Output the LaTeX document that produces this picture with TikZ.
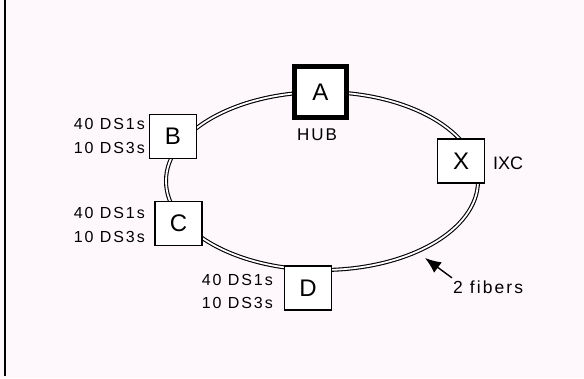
\documentclass[tikz,border=0pt]{standalone}
\usepackage{fontspec}
\setmainfont{Liberation Sans}
\newfontfamily\lblfont[LetterSpace=12]{Liberation Sans}
\usetikzlibrary{arrows.meta}
\begin{document}
\begin{tikzpicture}[x=1pt,y=-1pt,
  site/.style={draw=black,fill=white,line width=1.2pt,minimum width=47pt,minimum height=44pt,inner sep=0pt,font=\fontsize{24}{24}\selectfont},
  hubbox/.style={site,line width=4.5pt,minimum width=52pt,minimum height=51pt},
  lbl/.style={align=right,inner sep=0pt,font=\lblfont\fontsize{16}{23.5}\selectfont},
  tag/.style={inner sep=0pt,font=\fontsize{18}{18}\selectfont},
  fiber/.style={draw=black,line width=1.1pt,double=white,double distance=1.8pt}]
\useasboundingbox (0,0) rectangle (584,378);
\fill[white!97!magenta] (0,0) rectangle (584,378);
\draw[line width=2pt] (4.5,0) -- (4.5,376);
% ring
\draw[fiber] (322,181) ellipse [x radius=156pt, y radius=89pt];
% sites
\node[hubbox] (A) at (320.5,92) {A};
\node[site] (B) at (173,136.5) {B};
\node[site] (C) at (178.5,223.5) {C};
\node[site] (X) at (461,161) {X};
\node[site] (D) at (308,288) {D};
% labels
\node[tag,font=\lblfont\fontsize{17}{17}\selectfont] (hub) at (317,135) {HUB};
\node[tag,anchor=west] (ixc) at (493,163) {IXC};
\node[lbl,anchor=east] (lB) at (145,136) {40 DS1s\\10 DS3s};
\node[lbl,anchor=east] (lC) at (145,225) {40 DS1s\\10 DS3s};
\node[lbl,anchor=east] (lD) at (273,291.5) {40 DS1s\\10 DS3s};
\node[lbl,anchor=west,font=\lblfont\fontsize{17.5}{17.5}\selectfont] (fib) at (453,287.5) {2 fibers};
\coordinate (tip) at (425,258);
\draw[line width=1.4pt,-{Latex[length=16pt,width=13pt]}] (fib.north west) ++(-1,-3) coordinate (tail) -- (tip);
\end{tikzpicture}
\end{document}
